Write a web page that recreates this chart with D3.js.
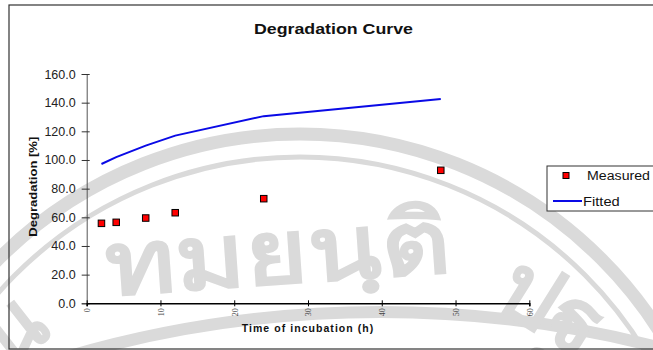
<!DOCTYPE html>
<html>
<head>
<meta charset="utf-8">
<script src="https://cdn.jsdelivr.net/npm/d3@7"></script>
<style>
  html, body { margin: 0; padding: 0; background: #fff; }
  svg { display: block; font-family: "Liberation Sans", Arial, sans-serif; }
</style>
</head>
<body>
<svg id="chart" width="653" height="350"></svg>
<script>
// data
var hours = [2, 4, 8, 12, 24, 48];
var measured = [55.8, 56.5, 59.5, 63.2, 73.0, 92.8];
var fitted = [97.2, 102.0, 110.0, 117.0, 130.6, 142.6];
var xTicks = [0, 10, 20, 30, 40, 50, 60];
var yTicks = [0, 20, 40, 60, 80, 100, 120, 140, 160];
var seriesNames = ["Measured", "Fitted"];

var svg = d3.select("#chart");
var plot = { left: 86.7, right: 529.3, top: 74, bottom: 303.3 };

var x = d3.scaleLinear().domain([0, 60]).range([plot.left, plot.right]);
var y = d3.scaleLinear().domain([0, 160]).range([plot.bottom, plot.top]);

// faint seal watermark behind the chart
var wmColor = "#dadada";
var wm = svg.append("g").attr("fill", "none").attr("stroke", wmColor);
wm.append("circle").attr("cx", 300).attr("cy", 560).attr("r", 426).attr("stroke-width", 13);
wm.append("circle").attr("cx", 300).attr("cy", 560).attr("r", 403).attr("stroke-width", 5);
wm.append("circle").attr("cx", 380).attr("cy", 1424).attr("r", 1112).attr("stroke-width", 12);
var wmText = svg.append("g")
  .attr("fill", wmColor)
  .attr("font-family", "'Noto Sans', 'DejaVu Sans', sans-serif")
  .attr("font-weight", "bold");
wmText.append("text")
  .attr("x", 104).attr("y", 284)
  .attr("font-size", 90)
  .attr("textLength", 346).attr("lengthAdjust", "spacingAndGlyphs")
  .attr("transform", "rotate(-4 277 250)")
  .text("ทมยนฺติ");
wmText.append("text")
  .attr("x", -20).attr("y", 360)
  .attr("font-size", 90)
  .attr("transform", "rotate(-38 10 330)")
  .text("น");
wmText.append("text")
  .attr("x", 500).attr("y", 330)
  .attr("font-size", 90)
  .attr("transform", "rotate(32 540 300)")
  .text("ปฐ");

// outer frame
svg.append("rect")
  .attr("x", 9).attr("y", 5).attr("width", 660).attr("height", 344)
  .attr("fill", "none").attr("stroke", "#333").attr("stroke-width", 1.2);

// title
svg.append("text")
  .attr("x", 333.5).attr("y", 34)
  .attr("text-anchor", "middle")
  .attr("font-size", 15).attr("font-weight", "bold").attr("fill", "#111")
  .attr("textLength", 159).attr("lengthAdjust", "spacingAndGlyphs")
  .text("Degradation Curve");

// y axis
var gy = svg.append("g")
  .attr("transform", "translate(" + plot.left + ",0)")
  .call(d3.axisLeft(y).tickValues(yTicks).tickFormat(d3.format(".1f")).tickSize(5).tickPadding(6));
gy.select(".domain").attr("stroke", "#555");
gy.selectAll(".tick line").attr("x1", 3).attr("x2", -5).attr("stroke", "#333");
gy.selectAll(".tick text")
  .attr("font-family", "'Liberation Sans', Arial, sans-serif")
  .attr("font-size", 12.5).attr("fill", "#222");

// x axis
var gx = svg.append("g")
  .attr("transform", "translate(0," + plot.bottom + ")")
  .call(d3.axisBottom(x).tickValues(xTicks).tickSize(3).tickSizeOuter(3));
gx.select(".domain").attr("stroke", "#000").attr("stroke-width", 1.5);
gx.selectAll(".tick line").attr("y1", -3).attr("y2", 3).attr("stroke", "#000");
gx.selectAll(".tick text")
  .attr("font-family", "'Liberation Serif', 'Times New Roman', serif")
  .attr("font-size", 8).attr("fill", "#444")
  .attr("text-anchor", "end")
  .attr("x", -5).attr("y", 0).attr("dy", "0.35em")
  .attr("transform", "rotate(-90)");

// axis titles
svg.append("text")
  .attr("transform", "translate(36.5,186.7) rotate(-90)")
  .attr("text-anchor", "middle")
  .attr("font-size", 11.5).attr("font-weight", "bold").attr("fill", "#111")
  .attr("textLength", 100).attr("lengthAdjust", "spacingAndGlyphs")
  .text("Degradation [%]");

svg.append("text")
  .attr("x", 307.5).attr("y", 331.5)
  .attr("text-anchor", "middle")
  .attr("font-size", 10.5).attr("font-weight", "bold").attr("fill", "#111")
  .attr("textLength", 131.6).attr("lengthAdjust", "spacing")
  .text("Time of incubation (h)");

// fitted line
var line = d3.line()
  .x(function (d, i) { return x(hours[i]); })
  .y(function (d) { return y(d); });
svg.append("path")
  .datum(fitted)
  .attr("d", line)
  .attr("fill", "none").attr("stroke", "#0a0ae6").attr("stroke-width", 2);

// measured markers
svg.append("g").selectAll("rect")
  .data(measured)
  .enter().append("rect")
  .attr("x", function (d, i) { return x(hours[i]) - 3.25; })
  .attr("y", function (d) { return y(d) - 3.25; })
  .attr("width", 6.5).attr("height", 6.5)
  .attr("fill", "#ff0000").attr("stroke", "#000").attr("stroke-width", 1);

// legend
var lg = svg.append("g");
lg.append("rect")
  .attr("x", 547).attr("y", 166).attr("width", 120).attr("height", 45)
  .attr("fill", "#fff").attr("stroke", "#333").attr("stroke-width", 1);
lg.append("rect")
  .attr("x", 563).attr("y", 172.5).attr("width", 6).attr("height", 6)
  .attr("fill", "#ff0000").attr("stroke", "#000");
lg.append("line")
  .attr("x1", 553).attr("x2", 582).attr("y1", 201).attr("y2", 201)
  .attr("stroke", "#0a0ae6").attr("stroke-width", 2);
lg.append("text")
  .attr("x", 587).attr("y", 180)
  .attr("font-size", 12.5).attr("fill", "#111")
  .attr("textLength", 63).attr("lengthAdjust", "spacingAndGlyphs")
  .text(seriesNames[0]);
lg.append("text")
  .attr("x", 583).attr("y", 206)
  .attr("font-size", 12.5).attr("fill", "#111")
  .attr("textLength", 36.7).attr("lengthAdjust", "spacingAndGlyphs")
  .text(seriesNames[1]);
</script>
</body>
</html>
